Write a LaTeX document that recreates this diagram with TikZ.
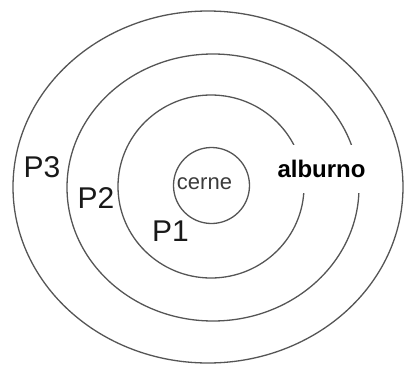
\documentclass[tikz,border=0pt]{standalone}
\usepackage{fontspec}
\setmainfont{Liberation Sans}
\usepackage{tikz}
\usetikzlibrary{positioning}
\definecolor{ringGray}{RGB}{85,85,85}
\definecolor{labelBlack}{RGB}{25,25,25}

\begin{document}
\begin{tikzpicture}[x=1pt,y=-1pt,
  ring/.style={draw=ringGray, line width=1.3pt},
  plabel/.style={text=labelBlack, inner sep=0pt, font=\fontsize{30}{30}\selectfont}]
\useasboundingbox (0,0) rectangle (405,367);
% growth rings, outer to inner
\draw[ring] (208,187) ellipse [x radius=195, y radius=176];
\draw[ring] (213,187.5) ellipse [x radius=146, y radius=133.5];
\draw[ring] (211,186.5) ellipse [x radius=93, y radius=91.5];
\draw[ring] (211.5,185.5) circle [radius=38];

\node[plabel] (p3) at (42,167.5) {P3};
\node[plabel] (p2) at (96,198.5) {P2};
\node[plabel] (p1) at (170.5,231) {P1};
\node[text=labelBlack!85, inner sep=0pt, font=\fontsize{22}{22}\selectfont] (cerne) at (204.5,184) {cerne};
\node[fill=white, text=black, inner xsep=1pt, minimum height=48pt,
  font=\bfseries\fontsize{24}{24}\selectfont] (alburno) at (321.5,169) {alburno};
\end{tikzpicture}
\end{document}
